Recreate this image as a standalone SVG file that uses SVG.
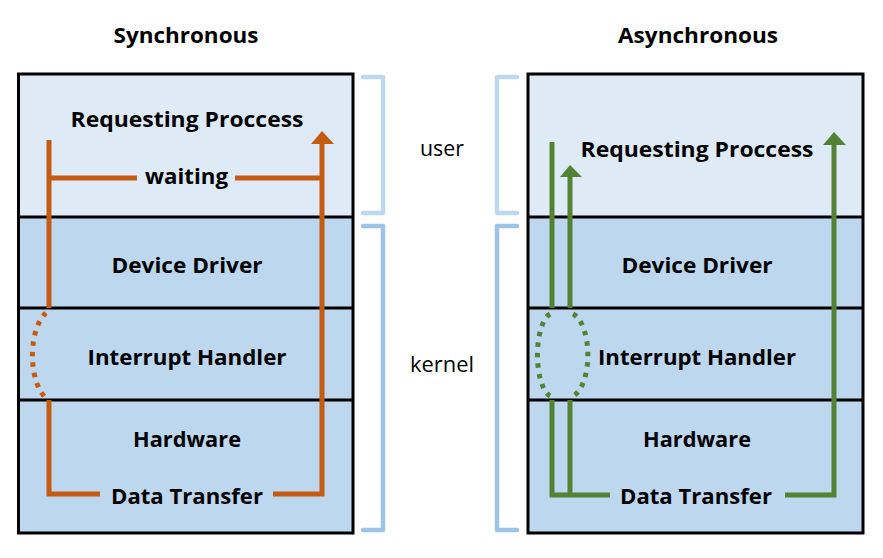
<svg xmlns="http://www.w3.org/2000/svg" width="883" height="558" viewBox="0 0 883 558">
<style>
text{font-family:"Open Sans","Noto Sans","DejaVu Sans",sans-serif;fill:#000}
.t{font-size:21px;font-weight:bold;text-anchor:middle}
.h{font-size:21px;font-weight:bold;text-anchor:middle}
.l{font-size:21px;text-anchor:middle}
.frame{fill:none;stroke:#000;stroke-width:3}
.div{stroke:#000;stroke-width:3}
.user{fill:#DEEBF7}
.kern{fill:#BDD7EE}
.o{fill:none;stroke:#C55A11;stroke-width:5}
.od{fill:none;stroke:#C55A11;stroke-width:5;stroke-dasharray:4.5 6}
.g{fill:none;stroke:#548235;stroke-width:5}
.gd{fill:none;stroke:#548235;stroke-width:5;stroke-dasharray:4.5 6}
.bu{fill:none;stroke:#BDD7EE;stroke-width:4.5;stroke-linejoin:round;stroke-linecap:round}
.bk{fill:none;stroke:#9DC3E6;stroke-width:4.5;stroke-linejoin:round;stroke-linecap:round}
</style>

<text class="h" x="186" y="43" textLength="145" lengthAdjust="spacingAndGlyphs">Synchronous</text>
<text class="h" x="698" y="43" textLength="160" lengthAdjust="spacingAndGlyphs">Asynchronous</text>

<g id="sync">
<rect class="user" x="18.5" y="74" width="334.5" height="143"/>
<rect class="kern" x="18.5" y="217" width="334.5" height="316"/>
<line class="div" x1="18.5" y1="217" x2="353" y2="217"/>
<line class="div" x1="18.5" y1="308" x2="353" y2="308"/>
<line class="div" x1="18.5" y1="400" x2="353" y2="400"/>
<rect class="frame" x="18.5" y="74" width="334.5" height="459"/>
</g>
<g id="sync-requesting"><text class="t" x="187" y="127" textLength="233" lengthAdjust="spacingAndGlyphs">Requesting Proccess</text></g>
<g id="sync-driver"><text class="t" x="187" y="273" textLength="151" lengthAdjust="spacingAndGlyphs">Device Driver</text></g>
<g id="sync-interrupt"><text class="t" x="187" y="365" textLength="199" lengthAdjust="spacingAndGlyphs">Interrupt Handler</text></g>
<g id="sync-hardware"><text class="t" x="187" y="447" textLength="108" lengthAdjust="spacingAndGlyphs">Hardware</text></g>

<g id="async">
<rect class="user" x="528" y="74" width="335" height="143"/>
<rect class="kern" x="528" y="217" width="335" height="316"/>
<line class="div" x1="528" y1="217" x2="863" y2="217"/>
<line class="div" x1="528" y1="308" x2="863" y2="308"/>
<line class="div" x1="528" y1="400" x2="863" y2="400"/>
<rect class="frame" x="528" y="74" width="335" height="459"/>
</g>
<g id="async-requesting"><text class="t" x="697" y="157" textLength="233" lengthAdjust="spacingAndGlyphs">Requesting Proccess</text></g>
<g id="async-driver"><text class="t" x="697" y="273" textLength="151" lengthAdjust="spacingAndGlyphs">Device Driver</text></g>
<g id="async-interrupt"><text class="t" x="697" y="365" textLength="198" lengthAdjust="spacingAndGlyphs">Interrupt Handler</text></g>
<g id="async-hardware"><text class="t" x="697" y="447" textLength="108" lengthAdjust="spacingAndGlyphs">Hardware</text></g>

<g id="brackets">
<path class="bu" d="M363,77 L383,77 L383,213 L363,213"/>
<path class="bk" d="M363,226 L383,226 L383,530 L363,530"/>
<path class="bu" d="M517,77 L497,77 L497,213 L517,213"/>
<path class="bk" d="M517,226 L497,226 L497,530 L517,530"/>
<text class="l" x="442" y="156" textLength="44" lengthAdjust="spacingAndGlyphs">user</text>
<text class="l" x="442" y="372" textLength="64" lengthAdjust="spacingAndGlyphs">kernel</text>
</g>

<g id="connectors">
<!-- synchronous -->
<path class="o" d="M49,140 L49,308"/>
<path class="od" d="M46,313 A22 46 0 0 0 46 398"/>
<path class="o" d="M49,400 L49,494 L100,494"/>
<path class="o" d="M273,494 L322,494 L322,142"/>
<polygon points="311,144 322,131 334,144" fill="#C55A11"/>
<path class="o" d="M49,178 L137,178"/>
<path class="o" d="M235,178 L322,178"/>
<text class="t" x="186.5" y="184" textLength="83" lengthAdjust="spacingAndGlyphs">waiting</text>
<text class="t" x="187" y="504" textLength="152" lengthAdjust="spacingAndGlyphs">Data Transfer</text>
<!-- asynchronous -->
<path class="g" d="M552,142 L552,308"/>
<path class="g" d="M570,308 L570,177"/>
<polygon points="560,177 570,165 582,177" fill="#548235"/>
<path class="gd" d="M550,314 A16 42 0 0 0 550 396"/>
<path class="gd" d="M573,314 A19 42 0 0 1 573 396"/>
<path class="g" d="M552,400 L552,495 L610,495"/>
<path class="g" d="M570,400 L570,495"/>
<path class="g" d="M785,495 L834,495 L834,144"/>
<polygon points="823,145 834,132 846,145" fill="#548235"/>
<text class="t" x="696" y="504" textLength="152" lengthAdjust="spacingAndGlyphs">Data Transfer</text>
</g>
</svg>
